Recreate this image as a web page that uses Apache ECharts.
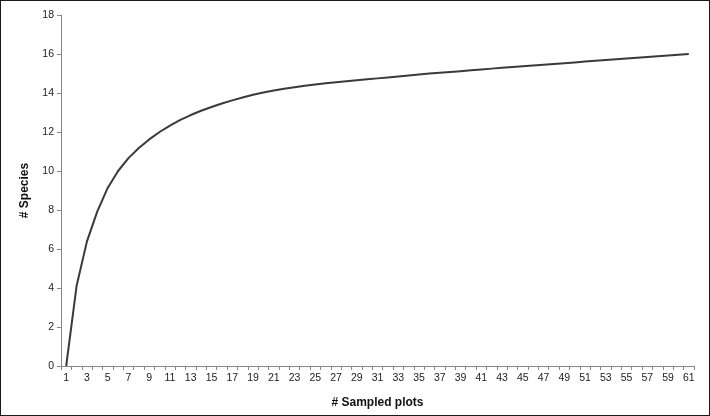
<!DOCTYPE html>
<html>
<head>
<meta charset="utf-8">
<script src="https://cdn.jsdelivr.net/npm/echarts@6/dist/echarts.min.js"></script>
<style>
html,body{margin:0;padding:0;background:#fff;}
#chart{width:710px;height:416px;box-sizing:border-box;border:1px solid #1a1a1a;}
</style>
</head>
<body>
<div id="chart"></div>
<script>
var plots = [];
for (var i = 1; i <= 61; i++) plots.push(String(i));
var species = [
  0.00, 4.10, 6.39, 7.93, 9.13, 10.00, 10.66, 11.18, 11.62, 12.00,
  12.33, 12.62, 12.87, 13.09, 13.28, 13.46, 13.62, 13.77, 13.91, 14.03,
  14.13, 14.22, 14.30, 14.37, 14.44, 14.50, 14.55, 14.60, 14.65, 14.70,
  14.75, 14.80, 14.85, 14.90, 14.95, 15.00, 15.04, 15.08, 15.12, 15.17,
  15.21, 15.25, 15.29, 15.33, 15.37, 15.41, 15.45, 15.49, 15.53, 15.57,
  15.61, 15.65, 15.69, 15.73, 15.77, 15.81, 15.85, 15.88, 15.92, 15.96,
  16.00
];
var yTicks = { min: 0, max: 18, interval: 2 };

var chart = echarts.init(document.getElementById('chart'), null, { renderer: 'canvas' });
var font = 'Liberation Sans, Arial, sans-serif';
chart.setOption({
  animation: false,
  backgroundColor: '#fff',
  grid: { left: 60, right: 15, top: 14, bottom: 49, containLabel: false },
  xAxis: {
    type: 'category',
    data: plots,
    boundaryGap: true,
    name: '# Sampled plots',
    nameLocation: 'middle',
    nameGap: 31,
    nameTextStyle: { fontFamily: font, fontSize: 12, fontWeight: 'bold', color: '#111' },
    axisLine: { lineStyle: { color: '#888', width: 1 } },
    axisTick: { show: true, interval: 0, length: 4, lineStyle: { color: '#888' } },
    axisLabel: { interval: 1, margin: 7, fontFamily: font, fontSize: 10.5, color: '#222' },
    splitLine: { show: false }
  },
  yAxis: {
    type: 'value',
    min: yTicks.min, max: yTicks.max, interval: yTicks.interval,
    name: '# Species',
    nameLocation: 'middle',
    nameGap: 30,
    nameRotate: 90,
    nameTextStyle: { fontFamily: font, fontSize: 12, fontWeight: 'bold', color: '#111' },
    axisLine: { show: true, lineStyle: { color: '#888', width: 1 } },
    axisTick: { show: true, length: 4, lineStyle: { color: '#888' } },
    axisLabel: { margin: 7, fontFamily: font, fontSize: 10.5, color: '#222' },
    splitLine: { show: false }
  },
  series: [{
    type: 'line',
    data: species,
    smooth: false,
    showSymbol: false,
    symbol: 'none',
    lineStyle: { color: '#3a3a3a', width: 2, join: 'round' }
  }]
});
</script>
</body>
</html>
